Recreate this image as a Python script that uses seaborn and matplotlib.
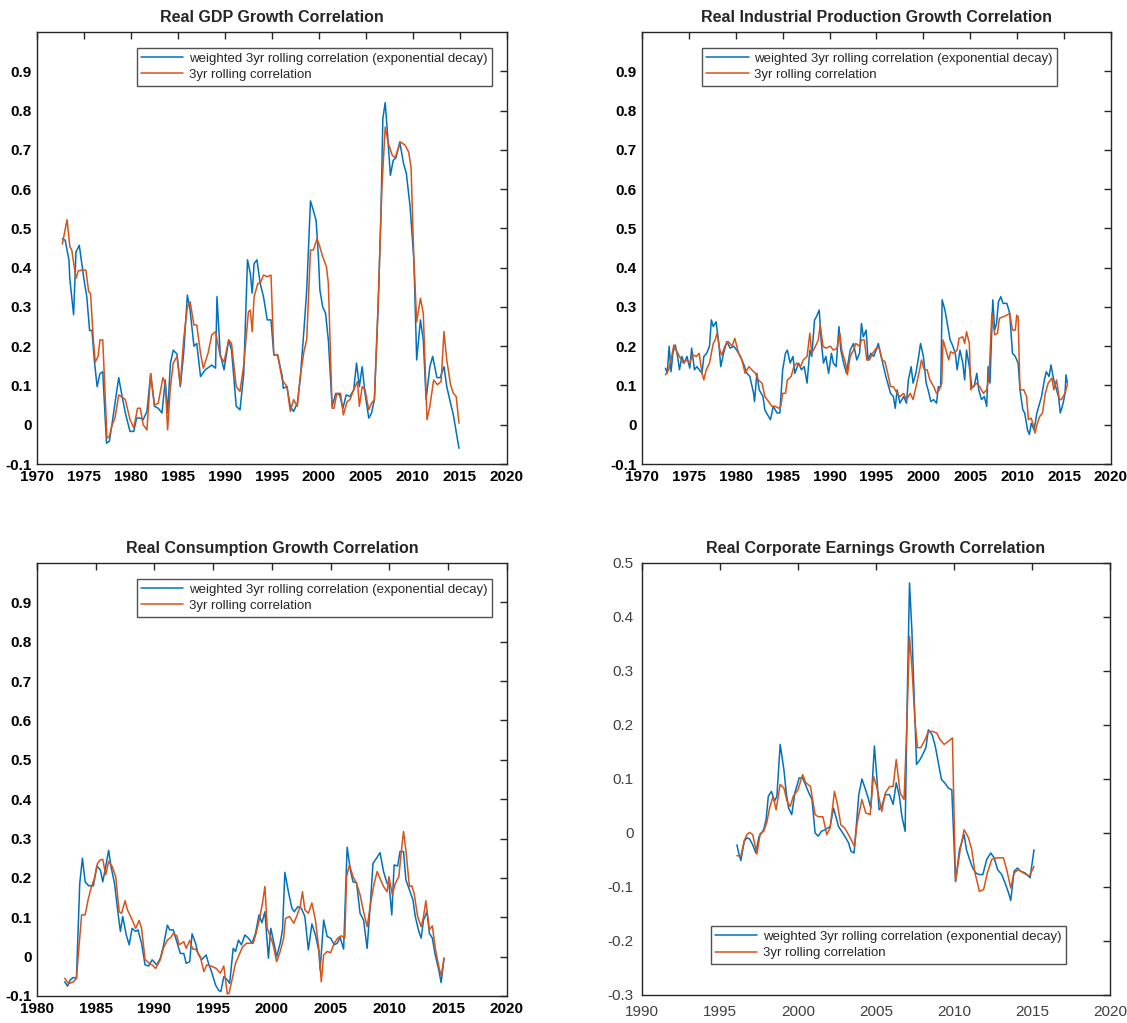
import numpy as np
import pandas as pd
import matplotlib
matplotlib.use('Agg')
import matplotlib.pyplot as plt
import seaborn as sns

# ---- Real GDP growth correlation (quarterly) ----
gdp_w_year = [1972.7, 1973.0, 1973.4, 1973.5, 1973.9, 1974.15, 1974.5, 1975.0, 1975.3, 1975.6,
              1975.85, 1976.1, 1976.4, 1976.7, 1977.0, 1977.4, 1977.7, 1978.0, 1978.3, 1978.7,
              1979.0, 1979.4, 1979.9, 1980.3, 1980.6, 1981.0, 1981.3, 1981.7, 1982.1, 1982.5,
              1982.9, 1983.3, 1983.65, 1983.9, 1984.2, 1984.5, 1984.9, 1985.25, 1985.6, 1986.0,
              1986.3, 1986.7, 1987.0, 1987.4, 1987.9, 1988.6, 1989.0, 1989.15, 1989.5, 1989.9,
              1990.4, 1990.7, 1991.2, 1991.6, 1992.0, 1992.4, 1992.7, 1992.9, 1993.1, 1993.4,
              1993.75, 1994.1, 1994.5, 1994.9, 1995.2, 1995.6, 1996.1, 1996.2, 1996.6, 1996.95,
              1997.3, 1997.7, 1998.0, 1998.4, 1998.7, 1999.1, 1999.4, 1999.7, 1999.96, 2000.1,
              2000.4, 2000.7, 2001.0, 2001.4, 2001.8, 2002.2, 2002.55, 2002.9, 2003.3, 2003.7,
              2004.0, 2004.3, 2004.6, 2004.9, 2005.3, 2005.6, 2005.9, 2006.3, 2006.6, 2006.8,
              2007.05, 2007.3, 2007.6, 2007.9, 2008.2, 2008.6, 2009.0, 2009.3, 2009.7, 2010.1,
              2010.4, 2010.8, 2011.1, 2011.4, 2011.8, 2012.1, 2012.55, 2012.9, 2013.3, 2013.6,
              2014.0, 2014.3, 2014.9]
gdp_w = [0.474, 0.47, 0.42, 0.37, 0.28, 0.44, 0.457, 0.37, 0.326, 0.24,
         0.24, 0.165, 0.097, 0.13, 0.135, -0.047, -0.042, 0.004, 0.055, 0.12,
         0.08, 0.03, -0.017, -0.017, 0.017, 0.017, 0.013, 0.034, 0.13, 0.047,
         0.042, 0.03, 0.114, 0.03, 0.157, 0.19, 0.18, 0.097, 0.18, 0.33,
         0.29, 0.2, 0.207, 0.123, 0.14, 0.152, 0.144, 0.326, 0.18, 0.14,
         0.216, 0.19, 0.047, 0.038, 0.13, 0.42, 0.385, 0.335, 0.41, 0.42,
         0.36, 0.326, 0.267, 0.267, 0.178, 0.178, 0.123, 0.093, 0.097, 0.047,
         0.034, 0.055, 0.114, 0.24, 0.343, 0.57, 0.546, 0.52, 0.42, 0.343,
         0.3, 0.284, 0.216, 0.047, 0.08, 0.076, 0.042, 0.076, 0.072, 0.089,
         0.157, 0.097, 0.148, 0.08, 0.017, 0.03, 0.064, 0.3, 0.54, 0.78,
         0.82, 0.74, 0.635, 0.673, 0.68, 0.72, 0.665, 0.64, 0.555, 0.42,
         0.165, 0.267, 0.216, 0.064, 0.148, 0.174, 0.12, 0.12, 0.148, 0.097,
         0.055, 0.025, -0.06]
gdp_r_year = [1972.7, 1973.2, 1973.5, 1973.7, 1974.15, 1974.4, 1974.8, 1975.2, 1975.5, 1975.7,
              1976.0, 1976.2, 1976.5, 1976.7, 1977.0, 1977.45, 1977.7, 1978.0, 1978.3, 1978.7,
              1979.0, 1979.4, 1979.9, 1980.3, 1980.7, 1981.0, 1981.3, 1981.7, 1982.1, 1982.5,
              1982.9, 1983.4, 1983.65, 1983.9, 1984.2, 1984.5, 1984.9, 1985.25, 1985.6, 1986.0,
              1986.3, 1986.7, 1987.0, 1987.4, 1987.7, 1988.2, 1988.6, 1989.0, 1989.5, 1989.9,
              1990.4, 1990.7, 1991.2, 1991.6, 1992.0, 1992.5, 1992.7, 1992.9, 1993.1, 1993.5,
              1993.75, 1994.1, 1994.5, 1994.9, 1995.2, 1995.6, 1996.1, 1996.6, 1996.95, 1997.3,
              1997.7, 1998.0, 1998.4, 1998.7, 1999.1, 1999.4, 1999.8, 2000.1, 2000.4, 2000.8,
              2001.0, 2001.4, 2001.6, 2001.9, 2002.3, 2002.6, 2003.0, 2003.3, 2003.7, 2004.1,
              2004.3, 2004.6, 2004.9, 2005.3, 2005.6, 2005.9, 2006.3, 2006.7, 2007.05, 2007.4,
              2007.8, 2008.1, 2008.5, 2008.7, 2009.2, 2009.55, 2009.8, 2010.1, 2010.4, 2010.8,
              2011.1, 2011.5, 2011.8, 2012.2, 2012.6, 2013.0, 2013.3, 2013.6, 2014.0, 2014.3,
              2014.6, 2014.9]
gdp_r = [0.46, 0.522, 0.453, 0.445, 0.373, 0.392, 0.394, 0.394, 0.339, 0.334,
         0.216, 0.16, 0.174, 0.216, 0.216, -0.034, -0.03, 0.0, 0.017, 0.076,
         0.072, 0.064, 0.013, -0.008, 0.042, 0.042, 0.0, -0.013, 0.13, 0.05,
         0.055, 0.12, 0.106, -0.013, 0.097, 0.157, 0.174, 0.102, 0.216, 0.3,
         0.313, 0.254, 0.254, 0.182, 0.144, 0.182, 0.229, 0.237, 0.174, 0.16,
         0.216, 0.207, 0.097, 0.085, 0.152, 0.288, 0.292, 0.237, 0.326, 0.36,
         0.36, 0.381, 0.377, 0.381, 0.178, 0.178, 0.114, 0.097, 0.034, 0.064,
         0.047, 0.12, 0.186, 0.216, 0.445, 0.445, 0.474, 0.453, 0.428, 0.402,
         0.36, 0.042, 0.042, 0.08, 0.08, 0.025, 0.059, 0.064, 0.089, 0.11,
         0.047, 0.097, 0.089, 0.038, 0.055, 0.064, 0.31, 0.605, 0.758, 0.715,
         0.686, 0.68, 0.707, 0.72, 0.711, 0.694, 0.656, 0.42, 0.262, 0.322,
         0.284, 0.013, 0.047, 0.114, 0.102, 0.11, 0.237, 0.165, 0.102, 0.08,
         0.072, 0.004]

# ---- Real industrial production growth correlation (monthly) ----
ip_w_year = [1972.5, 1972.7, 1972.9, 1973.1, 1973.3, 1973.55, 1973.8, 1974.0, 1974.26, 1974.5,
             1974.8, 1975.1, 1975.3, 1975.6, 1975.85, 1976.1, 1976.4, 1976.6, 1976.9, 1977.2,
             1977.4, 1977.6, 1977.9, 1978.2, 1978.4, 1978.7, 1979.05, 1979.4, 1979.8, 1980.1,
             1980.5, 1980.8, 1981.2, 1981.5, 1981.9, 1982.0, 1982.25, 1982.5, 1982.9, 1983.1,
             1983.4, 1983.7, 1984.0, 1984.4, 1984.7, 1985.0, 1985.3, 1985.5, 1985.8, 1986.1,
             1986.3, 1986.7, 1987.0, 1987.3, 1987.6, 1987.9, 1988.1, 1988.4, 1988.6, 1988.9,
             1989.1, 1989.35, 1989.6, 1989.9, 1990.2, 1990.4, 1990.7, 1991.0, 1991.2, 1991.5,
             1991.8, 1992.2, 1992.55, 1992.9, 1993.2, 1993.4, 1993.6, 1993.9, 1994.1, 1994.4,
             1994.7, 1994.96, 1995.2, 1995.5, 1995.75, 1996.0, 1996.3, 1996.5, 1996.8, 1997.0,
             1997.2, 1997.5, 1997.9, 1998.2, 1998.4, 1998.7, 1998.9, 1999.2, 1999.5, 1999.7,
             2000.0, 2000.3, 2000.5, 2000.8, 2001.1, 2001.4, 2001.6, 2001.85, 2002.0, 2002.3,
             2002.6, 2002.85, 2003.1, 2003.4, 2003.6, 2003.9, 2004.2, 2004.4, 2004.6, 2004.9,
             2005.15, 2005.4, 2005.7, 2005.9, 2006.2, 2006.5, 2006.75, 2006.9, 2007.1, 2007.4,
             2007.6, 2007.8, 2008.0, 2008.25, 2008.5, 2008.9, 2009.2, 2009.5, 2009.8, 2010.1,
             2010.3, 2010.6, 2010.8, 2011.1, 2011.3, 2011.5, 2011.8, 2012.1, 2012.4, 2012.6,
             2012.9, 2013.1, 2013.4, 2013.6, 2013.9, 2014.1, 2014.4, 2014.6, 2014.9, 2015.1,
             2015.2, 2015.35]
ip_w = [0.144, 0.131, 0.2, 0.135, 0.182, 0.203, 0.174, 0.14, 0.174, 0.157,
        0.174, 0.144, 0.195, 0.14, 0.148, 0.14, 0.131, 0.174, 0.182, 0.2,
        0.267, 0.25, 0.262, 0.207, 0.148, 0.182, 0.212, 0.195, 0.2, 0.19,
        0.174, 0.157, 0.131, 0.123, 0.08, 0.059, 0.131, 0.089, 0.072, 0.038,
        0.025, 0.013, 0.047, 0.03, 0.03, 0.14, 0.182, 0.19, 0.157, 0.174,
        0.131, 0.157, 0.14, 0.148, 0.106, 0.19, 0.174, 0.267, 0.275, 0.292,
        0.216, 0.157, 0.174, 0.131, 0.182, 0.157, 0.148, 0.25, 0.19, 0.157,
        0.131, 0.19, 0.207, 0.165, 0.182, 0.258, 0.224, 0.241, 0.165, 0.182,
        0.174, 0.19, 0.207, 0.174, 0.148, 0.123, 0.097, 0.08, 0.072, 0.042,
        0.089, 0.055, 0.072, 0.055, 0.114, 0.148, 0.106, 0.131, 0.174, 0.207,
        0.174, 0.106, 0.089, 0.059, 0.064, 0.055, 0.097, 0.097, 0.318, 0.292,
        0.25, 0.216, 0.203, 0.182, 0.14, 0.19, 0.157, 0.114, 0.19, 0.148,
        0.097, 0.097, 0.131, 0.089, 0.064, 0.072, 0.047, 0.148, 0.106, 0.318,
        0.241, 0.258, 0.313, 0.326, 0.309, 0.309, 0.284, 0.182, 0.174, 0.157,
        0.089, 0.038, 0.03, -0.013, -0.025, 0.004, -0.013, 0.03, 0.055, 0.072,
        0.114, 0.135, 0.123, 0.152, 0.114, 0.097, 0.072, 0.03, 0.055, 0.08,
        0.127, 0.106]
ip_r_year = [1972.5, 1972.85, 1973.1, 1973.4, 1973.65, 1974.0, 1974.4, 1974.7, 1975.1, 1975.4,
             1975.8, 1976.1, 1976.4, 1976.6, 1976.85, 1977.2, 1977.6, 1977.8, 1978.0, 1978.3,
             1978.5, 1978.9, 1979.2, 1979.6, 1979.9, 1980.3, 1980.65, 1981.0, 1981.4, 1981.7,
             1982.1, 1982.4, 1982.8, 1983.1, 1983.5, 1983.85, 1984.2, 1984.6, 1984.8, 1985.0,
             1985.3, 1985.5, 1985.9, 1986.2, 1986.5, 1986.9, 1987.2, 1987.6, 1987.9, 1988.1,
             1988.5, 1988.8, 1989.0, 1989.3, 1989.6, 1990.1, 1990.4, 1990.8, 1991.1, 1991.3,
             1991.7, 1991.9, 1992.2, 1992.55, 1992.8, 1993.2, 1993.4, 1993.7, 1993.97, 1994.25,
             1994.6, 1994.96, 1995.3, 1995.6, 1995.9, 1996.2, 1996.5, 1996.8, 1997.2, 1997.5,
             1997.9, 1998.2, 1998.6, 1998.9, 1999.3, 1999.6, 1999.8, 2000.1, 2000.4, 2000.7,
             2001.1, 2001.4, 2001.7, 2001.96, 2002.1, 2002.4, 2002.7, 2002.9, 2003.2, 2003.6,
             2003.8, 2004.2, 2004.4, 2004.6, 2004.9, 2005.05, 2005.3, 2005.7, 2006.0, 2006.4,
             2006.75, 2007.0, 2007.3, 2007.6, 2007.9, 2008.1, 2008.5, 2008.9, 2009.2, 2009.5,
             2009.8, 2009.95, 2010.1, 2010.3, 2010.7, 2011.0, 2011.2, 2011.5, 2011.7, 2011.9,
             2012.15, 2012.4, 2012.7, 2013.0, 2013.3, 2013.7, 2013.9, 2014.2, 2014.5, 2014.7,
             2015.1, 2015.35]
ip_r = [0.127, 0.14, 0.165, 0.203, 0.19, 0.174, 0.157, 0.165, 0.157, 0.178,
        0.174, 0.182, 0.131, 0.114, 0.14, 0.157, 0.207, 0.216, 0.233, 0.19,
        0.178, 0.203, 0.212, 0.2, 0.22, 0.182, 0.165, 0.131, 0.148, 0.14,
        0.131, 0.114, 0.106, 0.072, 0.059, 0.047, 0.047, 0.042, 0.047, 0.08,
        0.08, 0.114, 0.123, 0.148, 0.157, 0.148, 0.165, 0.174, 0.233, 0.182,
        0.2, 0.216, 0.254, 0.2, 0.195, 0.2, 0.19, 0.195, 0.233, 0.19,
        0.157, 0.127, 0.174, 0.19, 0.207, 0.2, 0.216, 0.216, 0.165, 0.165,
        0.182, 0.195, 0.195, 0.165, 0.161, 0.131, 0.097, 0.097, 0.08, 0.072,
        0.08, 0.064, 0.08, 0.064, 0.106, 0.14, 0.165, 0.14, 0.14, 0.114,
        0.097, 0.08, 0.089, 0.106, 0.216, 0.19, 0.165, 0.186, 0.182, 0.19,
        0.22, 0.224, 0.207, 0.237, 0.207, 0.089, 0.097, 0.106, 0.097, 0.08,
        0.089, 0.123, 0.284, 0.229, 0.233, 0.271, 0.275, 0.279, 0.284, 0.241,
        0.241, 0.279, 0.275, 0.089, 0.089, 0.072, 0.013, 0.017, 0.0, -0.021,
        0.004, 0.021, 0.03, 0.08, 0.106, 0.119, 0.089, 0.114, 0.064, 0.064,
        0.08, 0.102]

# ---- Real consumption growth correlation (quarterly) ----
con_w_year = [1982.36, 1982.6, 1982.85, 1983.1, 1983.36, 1983.64, 1983.87, 1984.1, 1984.4, 1984.8,
              1985.1, 1985.4, 1985.6, 1985.9, 1986.1, 1986.3, 1986.6, 1986.9, 1987.1, 1987.3,
              1987.6, 1987.85, 1988.1, 1988.4, 1988.6, 1988.9, 1989.2, 1989.5, 1989.8, 1990.2,
              1990.5, 1990.75, 1991.1, 1991.3, 1991.6, 1991.9, 1992.2, 1992.5, 1992.7, 1993.0,
              1993.2, 1993.5, 1993.7, 1994.0, 1994.4, 1994.6, 1994.9, 1995.2, 1995.45, 1995.65,
              1995.9, 1996.2, 1996.4, 1996.7, 1996.9, 1997.15, 1997.4, 1997.7, 1998.0, 1998.3,
              1998.6, 1998.9, 1999.15, 1999.4, 1999.7, 1999.9, 2000.2, 2000.4, 2000.7, 2000.9,
              2001.1, 2001.4, 2001.7, 2001.9, 2002.2, 2002.5, 2002.8, 2003.1, 2003.4, 2003.7,
              2004.0, 2004.1, 2004.4, 2004.7, 2005.0, 2005.3, 2005.55, 2005.8, 2006.1, 2006.4,
              2006.7, 2006.9, 2007.2, 2007.5, 2007.8, 2008.1, 2008.4, 2008.6, 2008.9, 2009.2,
              2009.5, 2009.8, 2009.96, 2010.2, 2010.4, 2010.7, 2010.9, 2011.2, 2011.4, 2011.7,
              2012.0, 2012.2, 2012.5, 2012.7, 2012.9, 2013.2, 2013.4, 2013.65, 2013.9, 2014.2,
              2014.4, 2014.65]
con_w = [-0.064, -0.075, -0.058, -0.053, -0.055, 0.186, 0.25, 0.19, 0.18, 0.18,
         0.23, 0.22, 0.19, 0.237, 0.27, 0.229, 0.186, 0.11, 0.064, 0.102,
         0.055, 0.03, 0.072, 0.064, 0.068, 0.034, -0.021, -0.024, -0.008, -0.021,
         -0.004, 0.025, 0.08, 0.068, 0.068, 0.038, 0.008, 0.008, -0.017, -0.013,
         0.058, 0.034, 0.008, -0.008, 0.004, -0.017, -0.042, -0.072, -0.085, -0.089,
         -0.051, -0.059, -0.068, 0.021, 0.013, 0.042, 0.03, 0.055, 0.047, 0.034,
         0.059, 0.106, 0.086, 0.114, -0.004, 0.072, 0.03, 0.0, 0.034, 0.068,
         0.214, 0.165, 0.123, 0.114, 0.127, 0.123, 0.102, 0.017, 0.083, 0.055,
         0.013, -0.034, 0.093, 0.051, 0.047, 0.03, 0.034, 0.049, 0.019, 0.278,
         0.216, 0.19, 0.188, 0.11, 0.093, 0.021, 0.144, 0.237, 0.25, 0.264,
         0.216, 0.186, 0.186, 0.106, 0.233, 0.23, 0.267, 0.267, 0.195, 0.17,
         0.144, 0.102, 0.064, 0.047, 0.093, 0.114, 0.059, 0.047, 0.004, -0.034,
         -0.066, -0.004]
con_r_year = [1982.36, 1982.7, 1983.1, 1983.36, 1983.6, 1983.8, 1984.1, 1984.35, 1984.6, 1984.9,
              1985.15, 1985.4, 1985.6, 1985.85, 1986.1, 1986.4, 1986.7, 1987.0, 1987.2, 1987.5,
              1987.7, 1988.05, 1988.4, 1988.7, 1988.9, 1989.2, 1989.55, 1989.8, 1990.1, 1990.5,
              1990.75, 1991.1, 1991.4, 1991.6, 1991.9, 1992.1, 1992.5, 1992.7, 1993.0, 1993.25,
              1993.5, 1993.9, 1994.2, 1994.45, 1994.9, 1995.25, 1995.6, 1995.9, 1996.2, 1996.35,
              1996.6, 1996.9, 1997.2, 1997.5, 1997.85, 1998.4, 1998.65, 1998.95, 1999.2, 1999.4,
              1999.6, 1999.9, 2000.1, 2000.4, 2000.7, 2001.0, 2001.15, 2001.5, 2001.85, 2002.1,
              2002.4, 2002.6, 2002.8, 2003.1, 2003.4, 2003.7, 2004.0, 2004.2, 2004.4, 2004.7,
              2005.0, 2005.3, 2005.6, 2005.9, 2006.2, 2006.35, 2006.6, 2006.9, 2007.2, 2007.5,
              2007.8, 2008.1, 2008.4, 2008.7, 2008.96, 2009.25, 2009.5, 2009.8, 2009.96, 2010.25,
              2010.5, 2010.8, 2011.0, 2011.2, 2011.4, 2011.7, 2011.9, 2012.1, 2012.4, 2012.7,
              2012.9, 2013.1, 2013.4, 2013.65, 2013.9, 2014.2, 2014.4, 2014.65]
con_r = [-0.055, -0.069, -0.064, -0.055, 0.034, 0.106, 0.106, 0.144, 0.174, 0.2,
         0.237, 0.246, 0.247, 0.208, 0.242, 0.229, 0.203, 0.114, 0.11, 0.142,
         0.119, 0.097, 0.072, 0.092, 0.072, -0.007, -0.017, -0.021, -0.03, -0.008,
         0.021, 0.042, 0.049, 0.059, 0.053, 0.03, 0.038, 0.021, 0.041, 0.019,
         0.019, 0.0, -0.038, -0.021, -0.025, -0.03, -0.042, -0.024, -0.095, -0.093,
         -0.059, -0.017, 0.004, 0.025, 0.034, 0.034, 0.059, 0.097, 0.137, 0.178,
         0.072, 0.049, 0.03, -0.013, 0.013, 0.047, 0.097, 0.102, 0.085, 0.102,
         0.127, 0.165, 0.119, 0.11, 0.136, 0.093, 0.017, -0.064, 0.004, 0.013,
         0.01, 0.034, 0.047, 0.053, 0.047, 0.203, 0.233, 0.203, 0.186, 0.157,
         0.114, 0.076, 0.136, 0.186, 0.216, 0.195, 0.178, 0.165, 0.203, 0.157,
         0.186, 0.203, 0.264, 0.318, 0.271, 0.178, 0.18, 0.161, 0.102, 0.076,
         0.102, 0.142, 0.068, 0.078, 0.021, -0.025, -0.049, -0.004]

# ---- Real corporate earnings growth correlation (quarterly) ----
ear_w_year = [1996.09, 1996.2, 1996.34, 1996.56, 1996.73, 1996.9, 1997.1, 1997.3, 1997.5, 1997.8,
              1997.96, 1998.1, 1998.3, 1998.5, 1998.65, 1998.86, 1999.1, 1999.25, 1999.4, 1999.6,
              1999.8, 2000.08, 2000.3, 2000.5, 2000.7, 2000.9, 2001.1, 2001.3, 2001.5, 2001.74,
              2002.06, 2002.28, 2002.45, 2002.6, 2002.8, 2003.0, 2003.24, 2003.4, 2003.6, 2003.9,
              2004.1, 2004.3, 2004.5, 2004.67, 2004.9, 2005.05, 2005.2, 2005.37, 2005.6, 2005.87,
              2006.1, 2006.3, 2006.5, 2006.66, 2006.87, 2007.0, 2007.15, 2007.3, 2007.47, 2007.6,
              2007.83, 2008.04, 2008.2, 2008.36, 2008.6, 2008.8, 2009.0, 2009.2, 2009.4, 2009.65,
              2009.86, 2010.1, 2010.35, 2010.65, 2010.8, 2011.0, 2011.2, 2011.4, 2011.6, 2011.85,
              2012.1, 2012.36, 2012.57, 2012.8, 2013.06, 2013.28, 2013.5, 2013.64, 2013.85, 2014.07,
              2014.28, 2014.56, 2014.88, 2015.13]
ear_w = [-0.022, -0.037, -0.051, -0.015, -0.009, -0.011, -0.022, -0.037, -0.007, 0.006,
         0.025, 0.068, 0.077, 0.059, 0.068, 0.164, 0.117, 0.074, 0.046, 0.034,
         0.074, 0.102, 0.102, 0.088, 0.074, 0.062, 0.0, -0.006, 0.003, 0.006,
         0.012, 0.046, 0.028, 0.012, 0.003, -0.006, -0.018, -0.034, -0.037, 0.071,
         0.1, 0.083, 0.065, 0.046, 0.161, 0.105, 0.043, 0.049, 0.071, 0.071,
         0.053, 0.093, 0.068, 0.031, 0.003, 0.241, 0.463, 0.377, 0.235, 0.127,
         0.136, 0.148, 0.158, 0.191, 0.182, 0.161, 0.13, 0.099, 0.093, 0.083,
         0.08, -0.09, -0.031, -0.003, -0.031, -0.049, -0.065, -0.074, -0.077, -0.077,
         -0.049, -0.037, -0.046, -0.068, -0.077, -0.093, -0.111, -0.125, -0.071, -0.065,
         -0.071, -0.074, -0.083, -0.031]
ear_r_year = [1996.09, 1996.34, 1996.56, 1996.73, 1996.9, 1997.1, 1997.37, 1997.58, 1997.8, 1998.0,
              1998.18, 1998.4, 1998.6, 1998.86, 1999.1, 1999.3, 1999.5, 1999.7, 2000.0, 2000.3,
              2000.5, 2000.8, 2001.1, 2001.3, 2001.6, 2001.85, 2002.06, 2002.34, 2002.53, 2002.75,
              2003.0, 2003.24, 2003.45, 2003.62, 2003.8, 2004.1, 2004.35, 2004.63, 2004.84, 2005.05,
              2005.37, 2005.6, 2005.87, 2006.1, 2006.3, 2006.55, 2006.8, 2006.97, 2007.15, 2007.3,
              2007.5, 2007.66, 2007.87, 2008.15, 2008.36, 2008.64, 2008.9, 2009.1, 2009.37, 2009.65,
              2009.9, 2010.1, 2010.4, 2010.65, 2010.93, 2011.14, 2011.35, 2011.63, 2011.9, 2012.14,
              2012.42, 2012.74, 2013.17, 2013.38, 2013.64, 2013.85, 2014.13, 2014.45, 2014.83, 2015.13]
ear_r = [-0.042, -0.043, -0.014, -0.003, 0.001, -0.003, -0.039, -0.001, 0.003, 0.019,
         0.046, 0.068, 0.043, 0.09, 0.083, 0.059, 0.049, 0.068, 0.08, 0.108,
         0.093, 0.086, 0.034, 0.03, 0.03, -0.003, 0.009, 0.077, 0.053, 0.015,
         0.009, -0.003, -0.015, -0.025, 0.019, 0.062, 0.037, 0.034, 0.105, 0.086,
         0.04, 0.074, 0.086, 0.086, 0.136, 0.074, 0.062, 0.191, 0.364, 0.309,
         0.207, 0.158, 0.158, 0.173, 0.188, 0.188, 0.185, 0.173, 0.164, 0.17,
         0.176, -0.09, -0.031, 0.006, -0.009, -0.031, -0.074, -0.108, -0.105, -0.074,
         -0.049, -0.046, -0.046, -0.068, -0.102, -0.074, -0.068, -0.074, -0.08, -0.062]

label_w = 'weighted 3yr rolling correlation (exponential decay)'
label_r = '3yr rolling correlation'
blue = '#0072BD'
orange = '#D95319'

sns.set_style('white')
plt.rcParams['font.family'] = ['Liberation Sans', 'DejaVu Sans']

fig = plt.figure(figsize=(11.27, 10.23), dpi=100)


def panel(rect, title, wx, wy, rx, ry, xlim, ylim, xticks, yticks, loc, anchor, heavy):
    ax = fig.add_axes(rect)
    df_w = pd.DataFrame({'year': wx, 'corr': wy})
    df_r = pd.DataFrame({'year': rx, 'corr': ry})
    sns.lineplot(data=df_w, x='year', y='corr', ax=ax, color=blue, lw=1.1,
                 label=label_w, estimator=None)
    sns.lineplot(data=df_r, x='year', y='corr', ax=ax, color=orange, lw=1.1,
                 label=label_r, estimator=None)
    ax.set_xlim(*xlim)
    ax.set_ylim(*ylim)
    ax.set_xticks(xticks)
    ax.set_yticks(yticks)
    ax.set_yticklabels(['%g' % t for t in yticks])
    ax.set_xlabel('')
    ax.set_ylabel('')
    weight = 'bold' if heavy else 'normal'
    ax.tick_params(direction='in', length=5, width=1, top=True, right=True,
                   colors='#262626', labelsize=11 if heavy else 11, pad=4)
    if not heavy:
        ax.tick_params(axis='x', pad=7)
        ax.tick_params(axis='y', pad=6)
    for lab in ax.get_xticklabels() + ax.get_yticklabels():
        lab.set_fontweight(weight)
        lab.set_color('black' if heavy else '#404040')
    for s in ax.spines.values():
        s.set_color('#262626')
        s.set_linewidth(1.0)
    ax.set_title(title, fontsize=11.5, fontweight='bold', pad=7)
    leg = ax.legend(loc=loc, bbox_to_anchor=anchor, borderaxespad=0, fontsize=9.5,
                    frameon=True, fancybox=False, handlelength=3.2, handletextpad=0.4,
                    borderpad=0.35, labelspacing=0.3)
    leg.get_frame().set_edgecolor('#262626')
    leg.get_frame().set_linewidth(1.0)
    return ax


yt1 = [-0.1, 0, 0.1, 0.2, 0.3, 0.4, 0.5, 0.6, 0.7, 0.8, 0.9]
panel([0.0328, 0.5464, 0.417, 0.4223], 'Real GDP Growth Correlation',
      gdp_w_year, gdp_w, gdp_r_year, gdp_r, (1970, 2020), (-0.1, 1.0),
      list(range(1970, 2021, 5)), yt1, 'upper right', (0.968, 0.963), True)
panel([0.5696, 0.5464, 0.4162, 0.4223], 'Real Industrial Production Growth Correlation',
      ip_w_year, ip_w, ip_r_year, ip_r, (1970, 2020), (-0.1, 1.0),
      list(range(1970, 2021, 5)), yt1, 'upper right', (0.885, 0.963), True)
panel([0.0328, 0.0264, 0.417, 0.4233], 'Real Consumption Growth Correlation',
      con_w_year, con_w, con_r_year, con_r, (1980, 2020), (-0.1, 1.0),
      list(range(1980, 2021, 5)), yt1, 'upper right', (0.968, 0.963), True)
panel([0.5696, 0.0274, 0.4153, 0.4223], 'Real Corporate Earnings Growth Correlation',
      ear_w_year, ear_w, ear_r_year, ear_r, (1990, 2020), (-0.3, 0.5),
      list(range(1990, 2021, 5)), [-0.3, -0.2, -0.1, 0, 0.1, 0.2, 0.3, 0.4, 0.5],
      'lower center', (0.526, 0.072), False)

fig.savefig('out.png', dpi=100)
